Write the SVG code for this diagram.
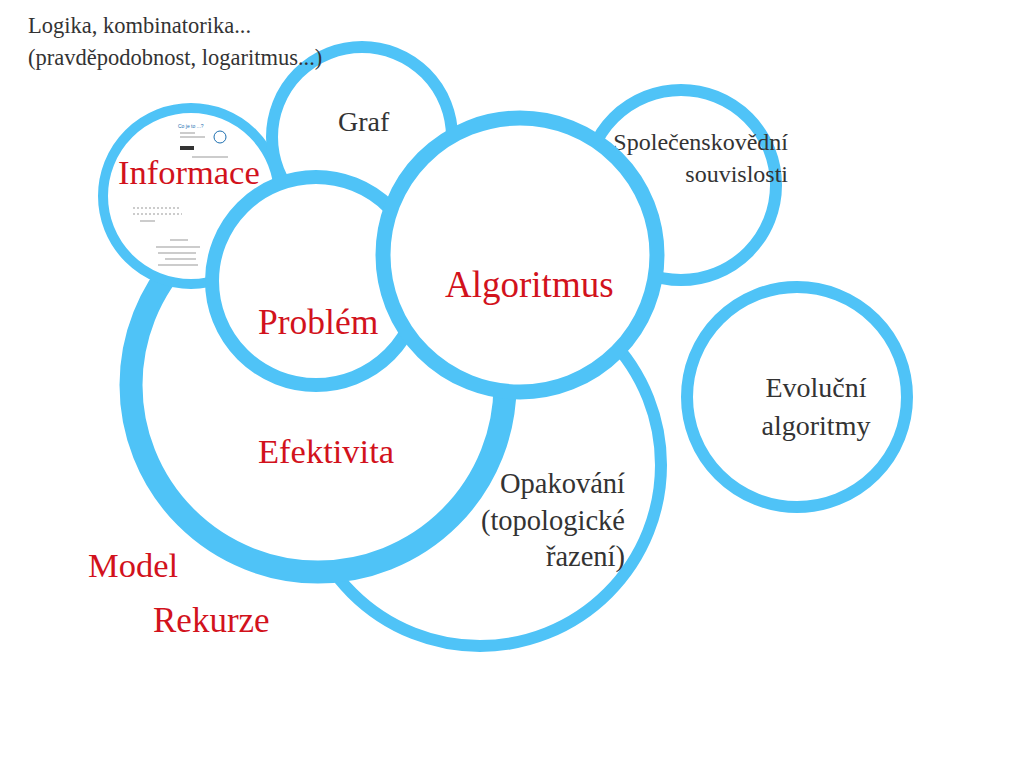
<svg xmlns="http://www.w3.org/2000/svg" width="1024" height="768" viewBox="0 0 1024 768">
<style>
.c{fill:#fff;stroke:#4fc3f7}
.r{font-family:"Liberation Serif",serif;fill:#d2121c;font-size:34.5px}
.k{font-family:"Liberation Serif",serif;fill:#333;font-size:28px}
.t{stroke:#999;stroke-width:1}
</style>
<rect width="1024" height="768" fill="#fff"/>
<g id="opakovani"><circle class="c" cx="480" cy="465" r="181" stroke-width="12"/></g>
<g id="efektivita"><circle class="c" cx="318" cy="385" r="187" stroke-width="23"/></g>
<g id="informace"><circle class="c" cx="191" cy="196" r="88" stroke-width="10"/>
<g fill="#777" font-family="Liberation Sans,sans-serif" font-size="4">
<text x="178" y="128" fill="#1c6fb0" font-size="5">Co je to ...?</text>
<line class="t" x1="180" y1="133" x2="195" y2="133"/><line class="t" x1="180" y1="137" x2="205" y2="137"/>
<circle cx="220" cy="137" r="6" fill="none" stroke="#1c6fb0"/>
<rect x="180" y="146" width="14" height="4" fill="#333"/>
<line class="t" x1="192" y1="157" x2="228" y2="157"/>
<line class="t" x1="133" y1="208" x2="180" y2="208" stroke-dasharray="2 2" stroke-width="2"/>
<line class="t" x1="133" y1="214" x2="182" y2="214" stroke-dasharray="2 2" stroke-width="2"/>
<line class="t" x1="140" y1="221" x2="155" y2="221"/>
<line class="t" x1="170" y1="240" x2="188" y2="240"/><line class="t" x1="156" y1="247" x2="200" y2="247"/>
<line class="t" x1="158" y1="253" x2="196" y2="253"/><line class="t" x1="165" y1="259" x2="196" y2="259"/>
<line class="t" x1="158" y1="265" x2="198" y2="265"/>
</g>
<text class="r" x="118" y="184">Informace</text></g>
<g id="graf"><circle class="c" cx="362" cy="137" r="90" stroke-width="12"/><text class="k" x="338" y="131">Graf</text></g>
<g id="spol"><circle class="c" cx="681" cy="185" r="95" stroke-width="12"/>
<text class="k" x="788" y="150" text-anchor="end" style="font-size:24px">Společenskovědní</text>
<text class="k" x="788" y="182" text-anchor="end" style="font-size:24px">souvislosti</text></g>
<g id="problem"><circle class="c" cx="316" cy="281" r="104" stroke-width="14"/><text class="r" x="258" y="334" style="font-size:35.5px">Problém</text></g>
<g id="algoritmus"><circle class="c" cx="520" cy="255" r="137" stroke-width="15"/><text class="r" x="445" y="297" style="font-size:37px">Algoritmus</text></g>
<g id="evolucni"><circle class="c" cx="797" cy="397" r="110" stroke-width="12"/>
<text class="k" x="816" y="397" text-anchor="middle">Evoluční</text>
<text class="k" x="816" y="435" text-anchor="middle">algoritmy</text></g>
<text class="r" x="258" y="463">Efektivita</text>
<g style="font-size:28.5px"><text class="k" x="625" y="493" text-anchor="end" style="font-size:28.5px">Opakování</text>
<text class="k" x="625" y="530" text-anchor="end" style="font-size:28.5px">(topologické</text>
<text class="k" x="625" y="566" text-anchor="end" style="font-size:28.5px">řazení)</text></g>
<text class="r" x="88" y="577">Model</text>
<text class="r" x="153" y="632" style="font-size:35px">Rekurze</text>
<text class="k" x="28" y="33" style="font-size:22.5px">Logika, kombinatorika...</text>
<text class="k" x="28" y="65" style="font-size:22.5px">(pravděpodobnost, logaritmus...)</text>
</svg>
